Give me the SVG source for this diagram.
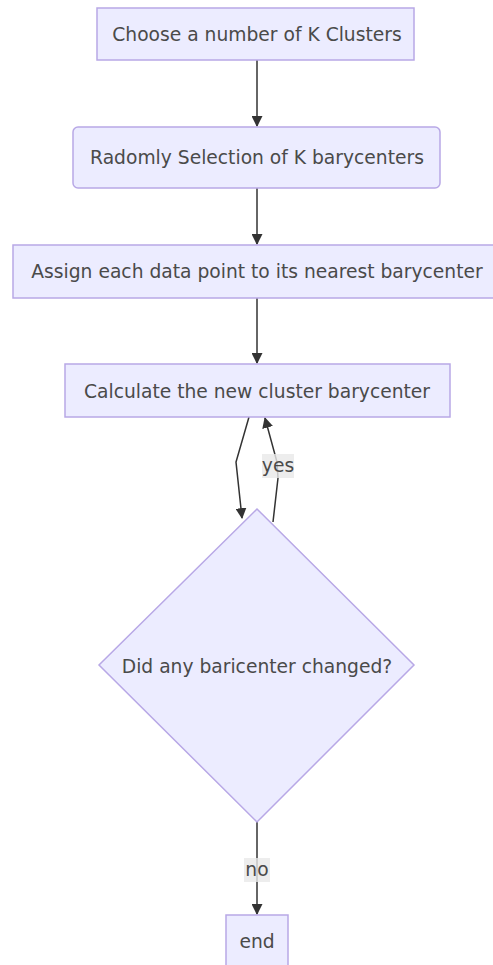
<svg xmlns="http://www.w3.org/2000/svg" width="493" height="965" viewBox="0 0 493 965">
<defs>
<marker id="arr" viewBox="0 0 10 10" refX="9" refY="5" markerWidth="11" markerHeight="11" markerUnits="userSpaceOnUse" orient="auto">
<path d="M0,0 L10,5 L0,10 z" fill="#333"/>
</marker>
<style>
.node{fill:#ECECFF;stroke:#B8A8E6;stroke-width:1.5}
.lbl{font-family:"DejaVu Sans",Verdana,sans-serif;font-size:18.7px;fill:#4a4a4a;text-anchor:middle;dominant-baseline:central}
.edge{fill:none;stroke:#333;stroke-width:1.5;marker-end:url(#arr)}
.elbg{fill:#E8E8E8;opacity:0.8}
</style>
</defs>
<rect width="493" height="965" fill="#fff"/>
<g id="connectors">
<path class="edge" d="M257,60 L257,126"/>
<path class="edge" d="M257,188 L257,244"/>
<path class="edge" d="M257,298 L257,363"/>
<path class="edge" d="M249,417 L236,462 L242,518"/>
<path class="edge" d="M273,522 L278,478 L277,462 L265,418"/>
<path class="edge" d="M257,822 L257,914"/>
<g id="edge-yes"><rect class="elbg" x="262" y="454" width="32" height="24"/><text class="lbl" x="278" y="465">yes</text></g>
<g id="edge-no"><rect class="elbg" x="244" y="858" width="26" height="24"/><text class="lbl" x="257" y="869">no</text></g>
</g>
<g id="n1"><rect class="node" x="97" y="8" width="317" height="52"/><text class="lbl" x="257" y="34">Choose a number of K Clusters</text></g>
<g id="n2"><rect class="node" x="73" y="127" width="367" height="61" rx="5"/><text class="lbl" x="257" y="157">Radomly Selection of K barycenters</text></g>
<g id="n3"><rect class="node" x="13" y="245" width="484" height="53"/><text class="lbl" x="257" y="271">Assign each data point to its nearest barycenter</text></g>
<g id="n4"><rect class="node" x="65" y="364" width="385" height="53"/><text class="lbl" x="257" y="391">Calculate the new cluster barycenter</text></g>
<g id="n5"><polygon class="node" points="257,509 414,665 257,822 99,665"/><text class="lbl" x="257" y="666">Did any baricenter changed?</text></g>
<g id="n6"><rect class="node" x="226" y="915" width="62" height="54"/><text class="lbl" x="257" y="941">end</text></g>
</svg>
